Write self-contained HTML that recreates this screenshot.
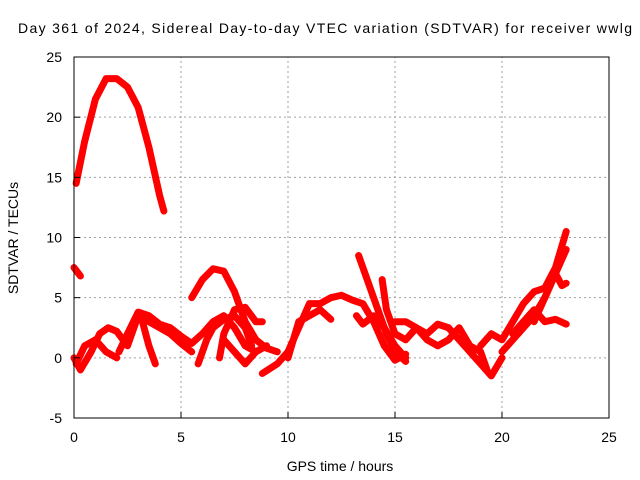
<!DOCTYPE html>
<html><head><meta charset="utf-8"><style>
body{margin:0;background:#fff;}
svg{display:block;font-family:"Liberation Sans",sans-serif;}
</style></head><body>
<svg id="chart" width="640" height="480">
<text x="18" y="33" font-size="14" textLength="614" lengthAdjust="spacing">Day 361 of 2024, Sidereal Day-to-day VTEC variation (SDTVAR) for receiver wwlg</text>
<g id="grid"></g>
<g id="series"></g>
<rect x="74" y="57" width="535" height="361" fill="none" stroke="#000" stroke-width="1"/>
<g id="ticks"></g>
<text x="340" y="471" text-anchor="middle" font-size="14">GPS time / hours</text>
<text transform="translate(18,238) rotate(-90)" text-anchor="middle" font-size="14">SDTVAR / TECUs</text>
</svg>
<script>
const xTicks=[0,5,10,15,20,25];
const yTicks=[-5,0,5,10,15,20,25];
const trackA=[[0.1,14.5],[0.5,18],[1,21.5],[1.5,23.2],[2,23.2],[2.5,22.5],[3,20.8],[3.5,17.5],[4,13.5],[4.2,12.2]];
const trackB=[[0,7.5],[0.3,6.8]];
const track1=[[0,0],[0.3,-1],[0.8,0.5],[1.2,2],[1.6,2.5],[2,2.2],[2.5,1],[3,3.5],[3.5,3],[4,2.5],[4.5,2],[5,1.2],[5.5,0.5]];
const track2=[[0.1,-0.5],[0.5,1],[1,1.5],[1.5,0.5],[2,0]];
const track3=[[2.1,0.5],[2.5,2],[3,3.8],[3.5,3.5],[4,2.8],[4.5,2.5],[5,1.8],[5.5,1.2],[6,2],[6.5,3],[7,3.5],[7.5,2.5],[8,1],[8.5,0.5]];
const track4=[[3.2,3],[3.5,1],[3.8,-0.5]];
const track5=[[5.5,5],[6,6.5],[6.5,7.4],[7,7.2],[7.5,5.5],[8,3],[8.5,1.5],[9,0.8],[9.5,0.5]];
const track6=[[5.8,-0.5],[6.2,1.5],[6.5,2.5],[7,3.2],[7.5,3.5],[8,2.5],[8.3,1]];
const track7=[[6.8,0],[7,2],[7.5,4],[8,4.2],[8.5,3],[8.8,3]];
const track8=[[7,1.5],[7.5,0.5],[8,-0.5],[8.5,0.5],[9,1]];
const track9=[[8.8,-1.3],[9.5,-0.5],[10,0.5],[10.5,2.5],[11,4.5],[11.5,4.5],[12,5],[12.5,5.2],[13,4.8],[13.5,4.5],[14,3],[14.5,1],[15,-0.2],[15.5,0.3]];
const track10=[[10,0],[10.5,3],[11,3.5],[11.5,4],[12,3.2]];
const track11=[[13.2,3.5],[13.5,2.8],[14,3.5],[14.5,2.5],[15,1],[15.5,0]];
const track12=[[13.3,8.5],[13.8,6],[14.2,4],[14.6,2],[15,0.5],[15.5,-0.3]];
const track13=[[14.4,6.5],[14.6,4],[15,2],[15.5,1.5],[16,2.5],[16.5,2],[17,2.8],[17.5,2.5],[18,1.5],[18.5,0.5],[19,-0.5],[19.5,-1.5],[20,0]];
const track14=[[15,3],[15.5,3],[16,2.5],[16.5,1.5],[17,1],[17.5,1.5],[18,2.5],[18.5,1],[19,0.5],[19.3,-1]];
const track15=[[19,1],[19.5,2],[20,1.5],[20.5,3],[21,4.5],[21.5,5.5],[22,5.8],[22.5,7.5],[23,10.5]];
const track16=[[20,0.5],[20.5,1.5],[21,2.5],[21.5,3.5],[22,5],[22.5,7],[23,9]];
const track17=[[20.5,2],[21,3],[21.5,4],[22,3],[22.5,3.2],[23,2.8]];
const track18=[[21.5,3],[22,5],[22.5,7],[22.8,6],[23,6.2]];
const tracks=[trackA,trackB,track1,track2,track3,track4,track5,track6,track7,track8,track9,track10,track11,track12,track13,track14,track15,track16,track17,track18];

const X0=74,X1=609,Y0=418,Y1=57;
const xs=v=>X0+(v-0)/(25-0)*(X1-X0);
const ys=v=>Y0-(v+5)/(25+5)*(Y0-Y1);
const NS="http://www.w3.org/2000/svg";
const grid=document.getElementById('grid'),ticks=document.getElementById('ticks'),series=document.getElementById('series');
function mk(t,a,p){const e=document.createElementNS(NS,t);for(const k in a)e.setAttribute(k,a[k]);p.appendChild(e);return e;}
xTicks.forEach(t=>{
  const x=xs(t);
  if(t>0&&t<25){const g=mk('line',{x1:x,x2:x,y1:Y0,y2:Y1,stroke:'#a0a0a0','stroke-dasharray':'2,3'},grid);
  
  }
  const tl=mk('line',{x1:x,x2:x,y1:Y0,y2:Y0-6,stroke:'#000'},ticks);
  
  
  const tt=mk('text',{x:x,y:Y0+24,'text-anchor':'middle','font-size':14},ticks);tt.textContent=t;
  
  
});
yTicks.forEach(t=>{
  const y=ys(t);
  if(t>-5&&t<25){const g=mk('line',{x1:X0,x2:X1,y1:y,y2:y,stroke:'#a0a0a0','stroke-dasharray':'2,3'},grid);
  
  }
  const tl=mk('line',{x1:X0,x2:X0+6,y1:y,y2:y,stroke:'#000'},ticks);
  
  
  const tt=mk('text',{x:X0-12,y:y+5,'text-anchor':'end','font-size':14},ticks);tt.textContent=t;
  
  
});
tracks.forEach((tr,i)=>{
  const pl=mk('polyline',{points:tr.map(p=>xs(p[0])+','+ys(p[1])).join(' '),fill:'none',stroke:'#ff0000','stroke-width':7,'stroke-linejoin':'round','stroke-linecap':'round'},series);
  
  
});
</script>
</body></html>
